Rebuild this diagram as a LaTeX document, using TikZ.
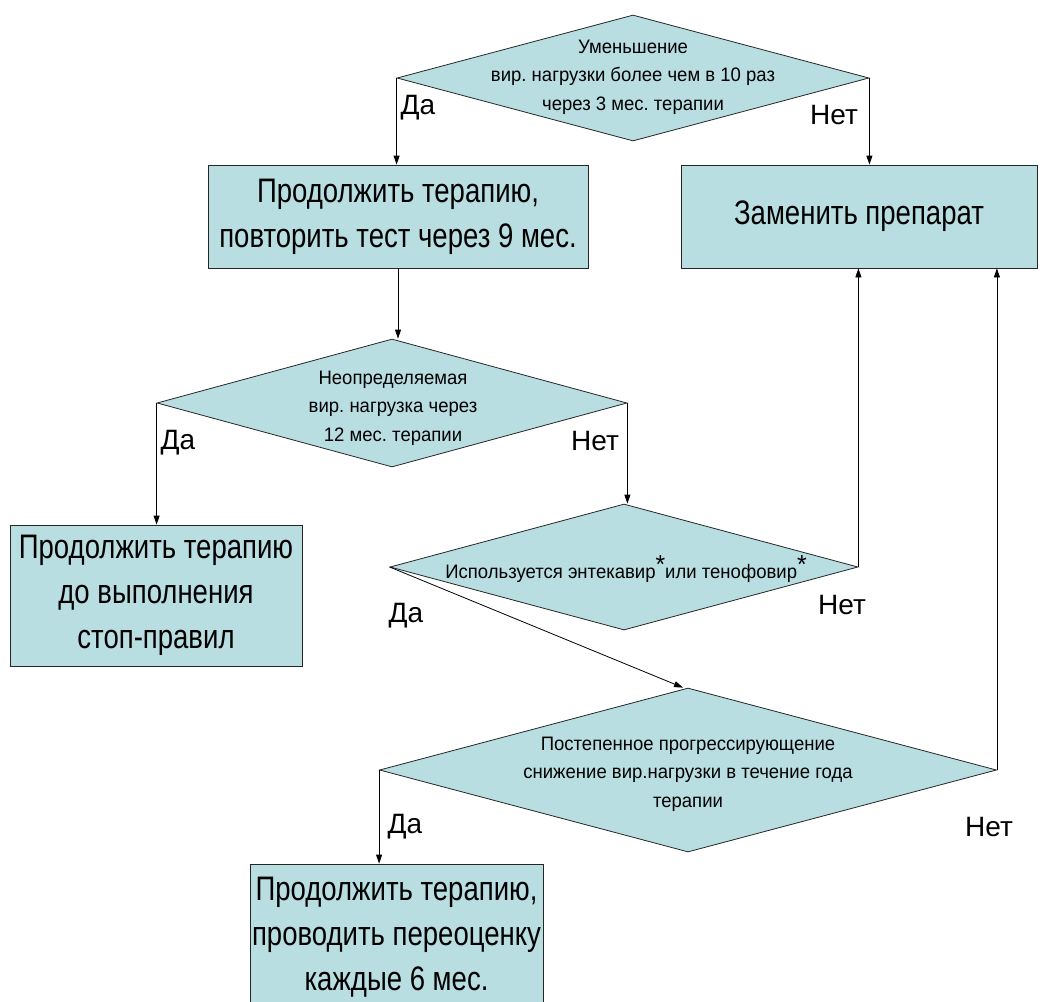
\documentclass[tikz,border=0pt]{standalone}
\usepackage{fontspec}
\setmainfont{Liberation Sans}
\newfontfamily\boxfont{Liberation Sans}[FakeStretch=0.81]
\newfontfamily\dfont{Liberation Sans}[FakeStretch=0.95]
\usetikzlibrary{shapes.geometric,arrows.meta}
\definecolor{boxfill}{RGB}{184,222,226}
\frenchspacing
\begin{document}
\begin{tikzpicture}[x=1pt,y=-1pt,
 box/.style={draw=black!85, fill=boxfill, line width=0.8pt, inner sep=0, align=center, font=\boxfont\fontsize{34}{45}\selectfont},
 dia/.style={diamond, draw=black!85, fill=boxfill, line width=0.8pt, inner sep=0},
 dtext/.style={align=center, font=\dfont\fontsize{19.5}{28.5}\selectfont, inner sep=0},
 lbl/.style={font=\fontsize{28}{30}\selectfont, inner sep=0},
 arr/.style={-{Triangle[length=9pt,width=6pt]}, line width=0.8pt}
]
\useasboundingbox (0,0) rectangle (1046,1001);
\clip (0,0) rectangle (1046,1001);
% boxes
\node[box, minimum width=380, minimum height=103] (b1) at (398,216.5) {Продолжить терапию,\\повторить тест через 9 мес.};
\node[box, minimum width=356, minimum height=103] (b2) at (859,216.5) {Заменить препарат};
\node[box, minimum width=292, minimum height=141] (b3) at (156,595.5) {Продолжить терапию\\до выполнения\\стоп-правил};
\node[box, minimum width=293, minimum height=146] (b5) at (396.5,937) {Продолжить терапию,\\проводить переоценку\\каждые 6 мес.};
% diamonds
\node[dia, minimum width=472, minimum height=126] (d1) at (633,78) {};
\node[dtext] (t1) at (633,77) {Уменьшение\\вир. нагрузки более чем в 10 раз\\через 3 мес. терапии};
\node[dia, minimum width=470, minimum height=128] (d2) at (392,403) {};
\node[dtext] (t2) at (393,408) {Неопределяемая\\вир. нагрузка через\\12 мес. терапии};
\node[dia, minimum width=468, minimum height=126] (d3) at (624,567) {};
\node[dtext] (t3) at (626,569) {Используется энтекавир\raisebox{0.3em}{\fontsize{26}{26}\selectfont*}или тенофовир\raisebox{0.3em}{\fontsize{26}{26}\selectfont*}};
\node[dia, minimum width=617, minimum height=164] (d4) at (688,770) {};
\node[dtext] (t4) at (688,774) {Постепенное прогрессирующение\\снижение вир.нагрузки в течение года\\терапии};
% connectors
\draw[arr] (d1.west) -- (d1.west |- b1.north);
\draw[arr] (d1.east) -- (d1.east |- b2.north);
\draw[arr] (b1.south) -- (b1.south |- d2.north);
\draw[arr] (d2.west) -- (d2.west |- b3.north);
\draw[arr] (d2.east) -- (d2.east |- d3.north);
\draw[arr] (d3.east) -- (d3.east |- b2.south);
\draw[arr] (d3.west) -- ([xshift=-5pt]d4.north);
\draw[arr] (d4.east) -- (d4.east |- b2.south);
\draw[arr] (d4.west) -- (d4.west |- b5.north);
% labels
\node[lbl] (l1) at (418,108) {Да};
\node[lbl] (l2) at (834,115) {Нет};
\node[lbl] (l3) at (178,443) {Да};
\node[lbl] (l4) at (595,441) {Нет};
\node[lbl] (l5) at (406,616) {Да};
\node[lbl] (l6) at (842,605) {Нет};
\node[lbl] (l7) at (405,827) {Да};
\node[lbl] (l8) at (989,827) {Нет};
\end{tikzpicture}
\end{document}
